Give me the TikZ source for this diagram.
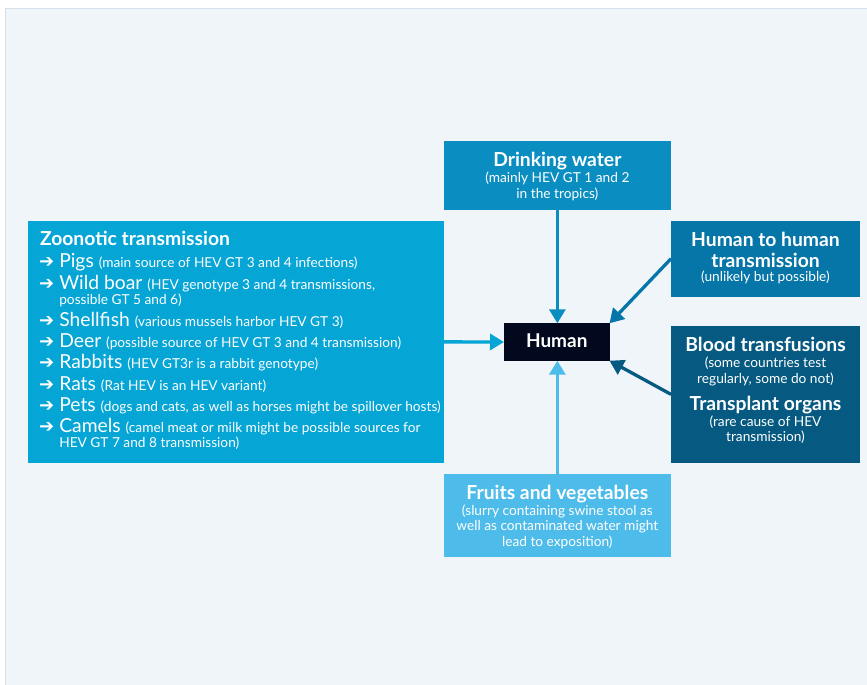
\documentclass[tikz,border=0pt]{standalone}
\usepackage{fontspec}
\setmainfont{Lato}
\newfontfamily\symfont{DejaVu Sans}
\usetikzlibrary{arrows.meta}
\definecolor{panel}{HTML}{F0F5FA}
\definecolor{panelborder}{HTML}{D3E0EC}
\definecolor{zooc}{HTML}{05A5D6}
\definecolor{drinkc}{HTML}{0A8EC2}
\definecolor{htohc}{HTML}{0676A8}
\definecolor{bloodc}{HTML}{065A82}
\definecolor{humanc}{HTML}{02081E}
\definecolor{fruitc}{HTML}{4EBCEA}
\newcommand\myfs[1]{\fontsize{#1}{#1}\selectfont}
\newcommand\ttl{\bfseries\myfs{19.3}}
\newcommand\sub{\myfs{13.7}}
\newcommand\itm{\myfs{19.3}}
\begin{document}
\begin{tikzpicture}[x=1pt,y=-1pt,
  boxnode/.style={inner sep=0pt, outer sep=0pt, draw=none},
  txt/.style={inner sep=0pt, outer sep=0pt, text=white},
  ctxt/.style={txt, anchor=base},
  ltxt/.style={txt, anchor=base west},
  conn/.style={line width=3.3pt, -{Triangle[length=14pt,width=16pt]}},
  bul/.style={txt, anchor=base west, font=\symfont\bfseries\myfs{18}}]
\useasboundingbox (0,0) rectangle (867,685);
\fill[white] (0,0) rectangle (867,685);
\fill[panel] (5,8) rectangle (867,685);
\draw[panelborder, line width=1pt] (5.5,685) -- (5.5,8.5) -- (867,8.5);

% boxes
\node[boxnode, fill=zooc, minimum width=416pt, minimum height=242.3pt] (zoo) at (236,341.85) {};
\node[boxnode, fill=drinkc, minimum width=226.7pt, minimum height=68.7pt] (drink) at (557.35,175.35) {};
\node[boxnode, fill=fruitc, minimum width=226.7pt, minimum height=83.3pt] (fruit) at (557.35,515.65) {};
\node[boxnode, fill=htohc, minimum width=189pt, minimum height=76pt] (htoh) at (765.5,258.7) {};
\node[boxnode, fill=bloodc, minimum width=189pt, minimum height=136.7pt] (blood) at (765.5,394.35) {};
\node[boxnode, fill=humanc, minimum width=105.5pt, minimum height=37.4pt] (human) at (556.75,342) {};

% human label
\node[ctxt, font=\bfseries\myfs{19}] (humant) at (556.75,347.5) {Human};

% drinking water
\node[ctxt, font=\ttl] (d1) at (557.35,166) {Drinking water};
\node[ctxt, font=\sub] (d2) at (557.35,182.7) {(mainly HEV GT 1 and 2};
\node[ctxt, font=\sub] (d3) at (557.35,198.3) {in the tropics)};

% fruits
\node[ctxt, font=\ttl] (f1) at (557.35,499.3) {Fruits and vegetables};
\node[ctxt, font=\sub] (f2) at (557.35,515) {(slurry containing swine stool as};
\node[ctxt, font=\sub] (f3) at (557.35,530.7) {well as contaminated water might};
\node[ctxt, font=\sub] (f4) at (557.35,546.2) {lead to exposition)};

% human to human
\node[ctxt, font=\ttl] (h1) at (765.5,246.7) {Human to human};
\node[ctxt, font=\ttl] (h2) at (765.5,267.3) {transmission};
\node[ctxt, font=\sub] (h3) at (765.5,281.7) {(unlikely but possible)};

% blood
\node[ctxt, font=\ttl] (b1) at (765.5,351.7) {Blood transfusions};
\node[ctxt, font=\sub] (b2) at (765.5,367.7) {(some countries test};
\node[ctxt, font=\sub] (b3) at (765.5,383.3) {regularly, some do not)};
\node[ctxt, font=\ttl] (b4) at (765.5,410) {Transplant organs};
\node[ctxt, font=\sub] (b5) at (765.5,426) {(rare cause of HEV};
\node[ctxt, font=\sub] (b6) at (765.5,441.7) {transmission)};

% zoonotic list
\node[ltxt, font=\ttl] (z0) at (40,245.7) {Zoonotic transmission};
\foreach \n/\y/\a/\b in {
  1/267.7/Pigs/(main source of HEV GT 3 and 4 infections),
  2/289/Wild boar/(HEV genotype 3 and 4 transmissions{,},
  3/326/Shellfish/(various mussels harbor HEV GT 3),
  4/347.3/Deer/(possible source of HEV GT 3 and 4 transmission),
  5/368.7/Rabbits/(HEV GT3r is a rabbit genotype),
  6/390/Rats/(Rat HEV is an HEV variant),
  7/411.7/Pets/(dogs and cats{,} as well as horses might be spillover hosts),
  8/432.5/Camels/(camel meat or milk might be possible sources for}{
  \node[bul] (zb\n) at (39,\y) {➔};
  \node[ltxt] (zi\n) at (59.3,\y) {\itm\a\ \sub\b};
}
\node[ltxt, font=\sub] (zc2) at (59.3,304) {possible GT 5 and 6)};
\node[ltxt, font=\sub] (zc8) at (59.3,447.5) {HEV GT 7 and 8 transmission)};

% connectors
\draw[conn, draw=drinkc] (drink.south) -- (drink.south |- human.north);
\draw[conn, draw=fruitc] (fruit.north) -- (fruit.north |- human.south);
\draw[conn, draw=zooc] (zoo.east) -- (human.west);
\draw[conn, draw=htohc] (htoh.west) -- (human.north east);
\draw[conn, draw=bloodc] (blood.west) -- (human.south east);
\end{tikzpicture}
\end{document}
